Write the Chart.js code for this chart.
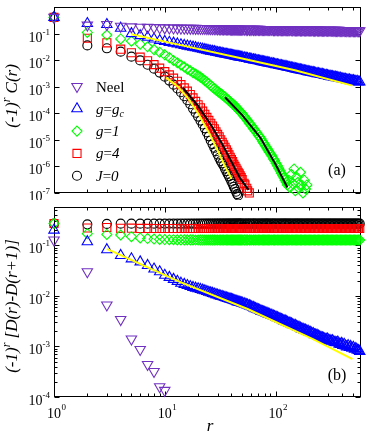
<!DOCTYPE html>
<html lang="en">
<head>
<meta charset="UTF-8">
<title>Staggered correlations</title>
<script src="https://cdn.jsdelivr.net/npm/chart.js"></script>
<style>
  body { margin: 0; background: #fff; }
  #wrap { position: relative; width: 368px; height: 433px; }
  #wrap canvas { position: absolute; left: 0; }
</style>
</head>
<body>
<div id="wrap">
  <canvas id="topChart" width="368" height="200" style="top:0"></canvas>
  <canvas id="bottomChart" width="368" height="233" style="top:200px"></canvas>
</div>
<script>
// distances r shared by every series (rows of ten)
const rValues = [1,2,3,4,5,6,7,8,9,10,
  11,12,13,14,15,16,17,18,19,20,
  21,22,23,24,25,26,27,28,29,30,
  31,32,33,34,35,36,37,38,39,40,
  41,42,43,44,45,46,47,48,49,50,
  52,53,55,56,58,59,61,63,64,66,
  68,70,72,74,76,78,80,82,84,86,
  88,91,93,96,98,101,104,107,110,113,
  116,119,122,125,128,132,135,139,143,147,
  151,155,159,163,168,172,177,182,187,192,
  197,202,208,213,219,225,231,238,244,251,
  258,265,272,279,287,295,303,311,319,328,
  337,346,355,365,375,385,396,406,417,429,
  440,452,465,477,490,504,517,531,546,561,
  576];

// panel (a): (-1)^r C(r)
const neelTop = [0.41,0.21,0.22,0.19,0.18,0.175,0.172,0.169,0.167,0.165,
  0.164,0.163,0.162,0.161,0.160,0.160,0.159,0.159,0.158,0.157,
  0.157,0.156,0.156,0.155,0.155,0.154,0.154,0.153,0.153,0.152,
  0.152,0.152,0.151,0.151,0.151,0.150,0.150,0.150,0.149,0.149,
  0.149,0.149,0.148,0.148,0.148,0.148,0.148,0.147,0.147,0.147,
  0.147,0.147,0.146,0.146,0.146,0.146,0.146,0.145,0.145,0.145,
  0.145,0.145,0.145,0.144,0.144,0.144,0.144,0.144,0.143,0.143,
  0.143,0.143,0.143,0.142,0.142,0.142,0.142,0.142,0.141,0.141,
  0.141,0.141,0.141,0.140,0.140,0.140,0.140,0.140,0.139,0.139,
  0.139,0.139,0.139,0.139,0.138,0.138,0.138,0.138,0.138,0.137,
  0.137,0.137,0.137,0.137,0.136,0.136,0.136,0.136,0.136,0.136,
  0.135,0.135,0.135,0.135,0.135,0.134,0.134,0.134,0.134,0.134,
  0.133,0.133,0.133,0.133,0.133,0.132,0.132,0.132,0.132,0.132,
  0.131,0.131,0.131,0.131,0.131,0.130,0.130,0.130,0.130,0.129,
  0.129];
const gcTop = [0.41,0.24,0.22,0.16,0.100,0.084,0.073,0.063,0.055,0.051,
  0.047,0.044,0.041,0.038,0.036,0.034,0.0325,0.031,0.0295,0.028,
  0.027,0.026,0.025,0.024,0.023,0.022,0.0215,0.021,0.020,0.0195,
  0.0190,0.0185,0.0180,0.0175,0.0171,0.0167,0.0163,0.0160,0.0156,0.0153,
  0.0150,0.0147,0.0144,0.0141,0.0138,0.0136,0.0133,0.0131,0.0129,0.0127,
  0.0123,0.0121,0.0117,0.0115,0.0111,0.0110,0.0107,0.0104,0.0102,0.0100,
  0.0097,0.0095,0.0093,0.0090,0.0088,0.0086,0.0084,0.0082,0.0081,0.0079,
  0.0077,0.0075,0.0074,0.0072,0.0070,0.0068,0.0067,0.0065,0.0063,0.0062,
  0.0060,0.0059,0.0058,0.0057,0.0055,0.0054,0.0053,0.0051,0.0050,0.0049,
  0.0047,0.0046,0.0045,0.0044,0.0043,0.0042,0.0041,0.0040,0.0039,0.0038,
  0.0037,0.0036,0.0035,0.0035,0.0034,0.0033,0.0032,0.0031,0.0031,0.0030,
  0.0029,0.0029,0.0028,0.0027,0.0027,0.0026,0.0025,0.0025,0.0024,0.0024,
  0.0023,0.0023,0.0022,0.0022,0.0021,0.0021,0.0020,0.0020,0.0019,0.0019,
  0.0018,0.0018,0.0018,0.0017,0.0017,0.0017,0.0016,0.0016,0.0016,0.0015,
  0.0015];
const g1Top = [0.41,0.111,0.089,0.063,0.052,0.040,0.032,0.025,0.020,0.016,
  0.0125,0.0098,0.0080,0.0066,0.0055,0.0046,0.0040,0.0034,0.0030,0.0026,
  0.0023,0.0020,0.0017,0.0015,0.0013,0.0011,9.8e-4,8.5e-4,7.6e-4,6.8e-4,
  6.1e-4,5.5e-4,5.0e-4,4.5e-4,4.1e-4,3.7e-4,3.3e-4,3.0e-4,2.7e-4,2.5e-4,
  2.3e-4,2.1e-4,1.9e-4,1.7e-4,1.55e-4,1.4e-4,1.28e-4,1.15e-4,1.05e-4,9.5e-5,
  7.8e-5,7.1e-5,5.8e-5,5.2e-5,4.3e-5,3.9e-5,3.3e-5,2.7e-5,2.5e-5,2.1e-5,
  1.8e-5,1.5e-5,1.3e-5,1.1e-5,9.0e-6,7.6e-6,6.5e-6,5.5e-6,4.7e-6,4.0e-6,
  3.4e-6,2.8e-6,2.4e-6,1.9e-6,1.65e-6,1.3e-6,1.05e-6,8.5e-7,6.8e-7,5.5e-7,
  4.5e-7,3.7e-7,3.0e-7,2.5e-7,2.0e-7,3.0e-7,1.6e-7,5.0e-7,2.2e-7,8.0e-7,
  1.2e-7,4.0e-7,2.5e-7,1.5e-7,6.0e-7,2.0e-7,1.0e-7,3.0e-7,1.4e-7,2.0e-7];
const g4Top = [0.41,0.067,0.045,0.026,0.019,0.013,0.0095,0.0068,0.0050,0.0037,
  0.0028,0.0021,0.0016,0.0012,9.0e-4,6.8e-4,5.1e-4,3.8e-4,2.8e-4,2.1e-4,
  1.6e-4,1.2e-4,9.2e-5,7.0e-5,5.4e-5,4.2e-5,3.3e-5,2.6e-5,2.0e-5,1.6e-5,
  1.3e-5,1.0e-5,8.1e-6,6.5e-6,5.2e-6,4.2e-6,3.4e-6,2.7e-6,2.2e-6,1.8e-6,
  1.5e-6,1.2e-6,1.0e-6,8.5e-7,7.1e-7,6.0e-7,5.2e-7,4.4e-7,3.8e-7,3.2e-7,
  2.3e-7,2.0e-7,1.5e-7,1.2e-7,1.0e-7];
const j0Top = [0.41,0.036,0.028,0.021,0.0136,0.0098,0.0067,0.0048,0.0034,0.0024,
  0.0017,0.0012,8.6e-4,6.2e-4,4.4e-4,3.1e-4,2.2e-4,1.5e-4,1.05e-4,7.5e-5,
  5.3e-5,3.8e-5,2.7e-5,1.9e-5,1.35e-5,9.5e-6,6.9e-6,5.0e-6,3.7e-6,2.8e-6,
  2.1e-6,1.6e-6,1.3e-6,1.05e-6,8.2e-7,6.5e-7,5.2e-7,4.2e-7,3.4e-7,2.7e-7,
  2.2e-7,1.7e-7,1.4e-7,1.1e-7,9.0e-8,8.0e-8];

// fitted curves in panel (a)
const fitGcTopR = [5, 14, 50, 150, 495];
const fitGcTopC = [0.095, 0.037, 0.0115, 0.0042, 0.0011];
const fitJ0TopR = [10.3, 13, 16, 20, 25, 30, 35, 40];
const fitJ0TopC = [0.0022, 0.00105, 4.0e-4, 1.0e-4, 1.9e-5, 4.0e-6, 1.0e-6, 3.5e-7];
const fitG4TopR = [14.6, 20, 26, 33, 40, 48, 57];
const fitG4TopC = [9.0e-4, 1.9e-4, 3.8e-5, 7.0e-6, 1.5e-6, 3.5e-7, 1.3e-7];
const fitG1TopR = [35, 50, 73, 100, 128];
const fitG1TopC = [4.0e-4, 8.5e-5, 1.2e-5, 1.2e-6, 1.6e-7];

// panel (b): (-1)^r [D(r)-D(r+1)]
const neelBot = [0.127,0.030,0.0066,0.0034,0.0014,8.7e-4,4.4e-4,3.2e-4,1.6e-4,1.35e-4];
const gcBot = [0.20,0.118,0.082,0.063,0.054,0.047,0.040,0.034,0.030,0.0256,
  0.0232,0.0212,0.0194,0.0178,0.0169,0.0160,0.0153,0.0147,0.0142,0.0138,
  0.0134,0.0130,0.0126,0.0122,0.0118,0.0115,0.0112,0.0109,0.0106,0.0104,
  0.0101,0.0099,0.0097,0.0095,0.0093,0.0091,0.0089,0.0088,0.0086,0.0085,
  0.0083,0.0082,0.0080,0.0079,0.0077,0.0076,0.0075,0.0074,0.0073,0.0072,
  0.0070,0.0069,0.0067,0.0066,0.0064,0.0063,0.0061,0.0059,0.0058,0.0056,
  0.0055,0.0053,0.0052,0.0050,0.0049,0.0048,0.0047,0.0046,0.0045,0.0044,
  0.0043,0.0042,0.0041,0.0040,0.0039,0.0038,0.0037,0.0036,0.0035,0.0034,
  0.0033,0.0032,0.0032,0.0031,0.0030,0.0029,0.0029,0.0028,0.0027,0.0026,
  0.0026,0.0025,0.0024,0.0024,0.0023,0.0022,0.0022,0.0021,0.0021,0.0020,
  0.0020,0.0019,0.0019,0.0018,0.0018,0.0017,0.0017,0.00165,0.0016,0.00155,
  0.0015,0.00148,0.00145,0.0014,0.00138,0.0014,0.00132,0.0013,0.00127,0.0013,
  0.00122,0.0012,0.00118,0.00122,0.00112,0.0011,0.00115,0.00105,0.0011,0.00102,
  0.00098,0.00104,0.00095,0.0010,0.00092,0.00096,0.00088,0.00091,0.00085,0.00083,
  0.0008];
const g1Bot = [0.27,0.17,0.164,0.160,0.148,0.140,0.136,0.133,0.131,0.130,
  0.129,0.129,0.128,0.128,0.128,0.128,0.128,0.128,0.127,0.127,
  0.127,0.127,0.127,0.127,0.127,0.127,0.127,0.127,0.127,0.127,
  0.127,0.127,0.127,0.127,0.127,0.127,0.127,0.127,0.127,0.127,
  0.127,0.127,0.127,0.127,0.127,0.127,0.127,0.127,0.127,0.127,
  0.127,0.127,0.127,0.127,0.127,0.127,0.127,0.127,0.127,0.127,
  0.127,0.127,0.127,0.127,0.127,0.127,0.127,0.127,0.127,0.127,
  0.127,0.127,0.127,0.127,0.127,0.127,0.127,0.127,0.127,0.127,
  0.127,0.127,0.127,0.127,0.127,0.127,0.127,0.127,0.127,0.127,
  0.127,0.127,0.127,0.127,0.127,0.127,0.127,0.127,0.127,0.127,
  0.127,0.127,0.127,0.127,0.127,0.127,0.127,0.127,0.127,0.127,
  0.127,0.127,0.127,0.127,0.127,0.127,0.127,0.127,0.127,0.127,
  0.127,0.127,0.127,0.127,0.127,0.127,0.127,0.127,0.127,0.127,
  0.127,0.127,0.127,0.127,0.127,0.127,0.127,0.127,0.127,0.127,
  0.127];
const g4Bot = [0.27,0.22,0.225,0.217,0.218,0.216,0.216,0.215,0.215,0.215,
  0.215,0.215,0.215,0.215,0.215,0.215,0.215,0.215,0.215,0.215,
  0.215,0.215,0.215,0.215,0.215,0.215,0.215,0.215,0.215,0.215,
  0.215,0.215,0.215,0.215,0.215,0.215,0.215,0.215,0.215,0.215,
  0.215,0.215,0.215,0.215,0.215,0.215,0.215,0.215,0.215,0.215,
  0.215,0.215,0.215,0.215,0.215,0.215,0.215,0.215,0.215,0.215,
  0.215,0.215,0.215,0.215,0.215,0.215,0.215,0.215,0.215,0.215,
  0.215,0.215,0.215,0.215,0.215,0.215,0.215,0.215,0.215,0.215,
  0.215,0.215,0.215,0.215,0.215,0.215,0.215,0.215,0.215,0.215,
  0.215,0.215,0.215,0.215,0.215,0.215,0.215,0.215,0.215,0.215,
  0.215,0.215,0.215,0.215,0.215,0.215,0.215,0.215,0.215,0.215,
  0.215,0.215,0.215,0.215,0.215,0.215,0.215,0.215,0.215,0.215,
  0.215,0.215,0.215,0.215,0.215,0.215,0.215,0.215,0.215,0.215,
  0.215,0.215,0.215,0.215,0.215,0.215,0.215,0.215,0.215,0.215,
  0.215];
const j0Bot = [0.27,0.26,0.265,0.268,0.268,0.268,0.268,0.268,0.268,0.268,
  0.268,0.268,0.268,0.268,0.268,0.268,0.268,0.268,0.268,0.268,
  0.268,0.268,0.268,0.268,0.268,0.268,0.268,0.268,0.268,0.268,
  0.268,0.268,0.268,0.268,0.268,0.268,0.268,0.268,0.268,0.268,
  0.268,0.268,0.268,0.268,0.268,0.268,0.268,0.268,0.268,0.268,
  0.268,0.268,0.268,0.268,0.268,0.268,0.268,0.268,0.268,0.268,
  0.268,0.268,0.268,0.268,0.268,0.268,0.268,0.268,0.268,0.268,
  0.268,0.268,0.268,0.268,0.268,0.268,0.268,0.268,0.268,0.268,
  0.268,0.268,0.268,0.268,0.268,0.268,0.268,0.268,0.268,0.268,
  0.268,0.268,0.268,0.268,0.268,0.268,0.268,0.268,0.268,0.268,
  0.268,0.268,0.268,0.268,0.268,0.268,0.268,0.268,0.268,0.268,
  0.268,0.268,0.268,0.268,0.268,0.268,0.268,0.268,0.268,0.268,
  0.268,0.268,0.268,0.268,0.268,0.268,0.268,0.268,0.268,0.268,
  0.268,0.268,0.268,0.268,0.268,0.268,0.268,0.268,0.268,0.268,
  0.268];
const fitGcBotR = [3, 14, 56, 218, 495];
const fitGcBotC = [0.085, 0.0185, 0.0055, 0.0014, 5.6e-4];

const legendLabels = ['Neel', 'g=gc', 'g=1', 'g=4', 'J=0'];

const PURPLE = '#7030c0', BLUE = '#0000ff', GREEN = '#00ff00', RED = '#ff0000', BLACK = '#000000', YELLOW = '#ffff00';
const serif = '"Liberation Serif", "Times New Roman", serif';

// marker looks per series: [style, radius, rotation, colour]
const looks = {
  neel: ['triangle', 6, 180, PURPLE],
  gc: ['triangle', 6, 0, BLUE],
  g1: ['rectRot', 5, 0, GREEN],
  g4: ['rect', 5.7, 0, RED],
  j0: ['circle', 4.5, 0, BLACK]
};

function markerSet(vals, look) {
  return {
    data: rValues.map((r, i) => ({ x: r, y: vals[i] })).filter(p => p.y != null),
    showLine: false,
    pointStyle: look[0], pointRadius: look[1], pointRotation: look[2],
    pointBorderColor: look[3], pointBackgroundColor: 'rgba(0,0,0,0)', pointBorderWidth: 1.1,
    borderColor: look[3], backgroundColor: 'rgba(0,0,0,0)',
    clip: false
  };
}

function fitLine(xs, ys, color, width) {
  return {
    data: xs.map((r, i) => ({ x: r, y: ys[i] })),
    showLine: true, pointRadius: 0, borderColor: color, borderWidth: width,
    backgroundColor: 'rgba(0,0,0,0)', clip: false
  };
}

function setFont(ctx, size, italic) {
  ctx.font = (italic ? 'italic ' : '') + size + 'px ' + serif;
}

// draws text pieces one after another (used for superscripts / subscripts)
function drawParts(ctx, parts, x, y, align) {
  let total = 0;
  parts.forEach(p => { setFont(ctx, p.size, p.italic); p.w = ctx.measureText(p.t).width; total += p.w; });
  let cx = align === 'right' ? x - total : (align === 'center' ? x - total / 2 : x);
  parts.forEach(p => {
    setFont(ctx, p.size, p.italic);
    ctx.fillText(p.t, cx, y + (p.dy || 0));
    cx += p.w;
  });
}

function logTicks(min, max) {
  const out = [];
  for (let e = Math.floor(Math.log10(min)); e <= Math.ceil(Math.log10(max)); e++) {
    for (let m = 1; m <= 9; m++) {
      const v = m * Math.pow(10, e);
      if (v >= min * 0.999 && v <= max * 1.001) out.push({ v: v, major: m === 1, e: e });
    }
  }
  return out;
}

function shape(ctx, look, x, y) {
  const [style, r, rot, color] = look;
  ctx.save();
  ctx.strokeStyle = color; ctx.lineWidth = 1.1;
  ctx.beginPath();
  if (style === 'circle') {
    ctx.arc(x, y, r, 0, Math.PI * 2);
  } else if (style === 'rect') {
    const s = Math.SQRT1_2 * r;
    ctx.rect(x - s, y - s, 2 * s, 2 * s);
  } else if (style === 'rectRot') {
    ctx.moveTo(x, y - r); ctx.lineTo(x + r, y); ctx.lineTo(x, y + r); ctx.lineTo(x - r, y); ctx.closePath();
  } else {
    let a = rot * Math.PI / 180;
    for (let k = 0; k < 3; k++) {
      const px = x + Math.sin(a) * r, py = y - Math.cos(a) * r;
      if (k === 0) ctx.moveTo(px, py); else ctx.lineTo(px, py);
      a += 2 * Math.PI / 3;
    }
    ctx.closePath();
  }
  ctx.stroke();
  ctx.restore();
}

function axesPlugin(cfg) {
  return {
    id: 'axesFrame',
    beforeDatasetsDraw(chart) {
      const { ctx, chartArea: a, scales: { x, y } } = chart;
      const L = Math.round(a.left) + 0.5, R = Math.round(a.right) - 0.5;
      const T = Math.round(a.top) + 0.5, B = Math.round(a.bottom) - 0.5;
      ctx.save();
      ctx.strokeStyle = '#000'; ctx.lineWidth = 1;
      ctx.strokeRect(L, T, R - L, B - T);
      ctx.beginPath();
      logTicks(x.min, x.max).forEach(t => {
        const px = Math.round(x.getPixelForValue(t.v)) + 0.5;
        const len = t.major ? 5 : 3;
        ctx.moveTo(px, B); ctx.lineTo(px, B - len);
        ctx.moveTo(px, T); ctx.lineTo(px, T + len);
      });
      logTicks(y.min, y.max).forEach(t => {
        if (!t.major && !cfg.yMinor) return;
        const py = Math.round(y.getPixelForValue(t.v)) + 0.5;
        const len = t.major ? 5 : 3;
        ctx.moveTo(L, py); ctx.lineTo(L + len, py);
        ctx.moveTo(R, py); ctx.lineTo(R - len, py);
      });
      ctx.stroke();
      ctx.restore();
    },
    afterDraw(chart) {
      const { ctx, scales: { x, y } } = chart;
      ctx.save();
      ctx.fillStyle = '#000';
      ctx.textBaseline = 'alphabetic';
      // y tick labels
      logTicks(y.min, y.max).forEach(t => {
        if (!t.major || t.e >= 0) return;
        const py = y.getPixelForValue(t.v);
        drawParts(ctx, [{ t: '10', size: 14 }, { t: String(t.e), size: 9, dy: -7 }], 50, py + 8, 'right');
      });
      // x tick labels
      if (cfg.xLabels) {
        logTicks(x.min, x.max).forEach(t => {
          if (!t.major) return;
          const px = x.getPixelForValue(t.v);
          setFont(ctx, 14, false);
          const w = ctx.measureText('10').width;
          ctx.fillText('10', px - w / 2, cfg.xLabelY);
          setFont(ctx, 9, false);
          ctx.fillText(String(t.e), px + w / 2 + 0.5, cfg.xLabelY - 8);
        });
        drawParts(ctx, [{ t: 'r', size: 17, italic: true }], 210, cfg.xTitleY, 'center');
      }
      // rotated y title
      ctx.save();
      ctx.translate(17, cfg.yTitleMid);
      ctx.rotate(-Math.PI / 2);
      drawParts(ctx, cfg.yTitle, 0, 0, 'center');
      ctx.restore();
      // panel tag
      drawParts(ctx, [{ t: cfg.tag, size: 16 }], 337, cfg.tagY, 'center');
      // legend
      if (cfg.legend) {
        const rows = [
          [looks.neel, [{ t: legendLabels[0], size: 15 }]],
          [looks.gc, [{ t: 'g', size: 15, italic: true }, { t: '=', size: 15 }, { t: 'g', size: 15, italic: true }, { t: 'c', size: 10, italic: true, dy: 3 }]],
          [looks.g1, [{ t: 'g', size: 15, italic: true }, { t: '=', size: 15 }, { t: '1', size: 15, italic: true }]],
          [looks.g4, [{ t: 'g', size: 15, italic: true }, { t: '=', size: 15 }, { t: '4', size: 15, italic: true }]],
          [looks.j0, [{ t: 'J', size: 15, italic: true }, { t: '=', size: 15 }, { t: '0', size: 15, italic: true }]]
        ];
        rows.forEach((row, i) => {
          const yy = 86.5 + i * 22.3;
          shape(ctx, row[0], 77, yy);
          drawParts(ctx, row[1], 96, yy + 5, 'left');
        });
      }
      ctx.restore();
    }
  };
}

function makeChart(id, datasets, yMin, yMax, padding, cfg) {
  return new Chart(document.getElementById(id), {
    type: 'scatter',
    data: { datasets: datasets },
    options: {
      responsive: false,
      animation: false,
      events: [],
      layout: { padding: padding },
      plugins: { legend: { display: false }, tooltip: { enabled: false } },
      scales: {
        x: { type: 'logarithmic', min: 1, max: 590, display: false },
        y: { type: 'logarithmic', min: yMin, max: yMax, display: false }
      }
    },
    plugins: [axesPlugin(cfg)]
  });
}

// first dataset is painted last (on top)
makeChart('topChart', [
  fitLine(fitGcTopR, fitGcTopC, YELLOW, 2),
  fitLine(fitJ0TopR, fitJ0TopC, YELLOW, 2),
  fitLine(fitG4TopR, fitG4TopC, BLACK, 2),
  fitLine(fitG1TopR, fitG1TopC, BLACK, 2),
  markerSet(neelTop, looks.neel),
  markerSet(gcTop, looks.gc),
  markerSet(g1Top, looks.g1),
  markerSet(g4Top, looks.g4),
  markerSet(j0Top, looks.j0)
], 1e-7, 1, { left: 54, top: 2, right: 2, bottom: 6 }, {
  yMinor: false, xLabels: false, legend: true, tag: '(a)', tagY: 175, yTitleMid: 96,
  yTitle: [{ t: '(-1)', size: 17, italic: true }, { t: 'r', size: 12, italic: true, dy: -7 }, { t: ' C(r)', size: 17, italic: true }]
});

makeChart('bottomChart', [
  fitLine(fitGcBotR, fitGcBotC, YELLOW, 2),
  markerSet(neelBot, looks.neel),
  markerSet(gcBot, looks.gc),
  markerSet(g1Bot, looks.g1),
  markerSet(g4Bot, looks.g4),
  markerSet(j0Bot, looks.j0)
], 1e-4, 0.57, { left: 54, top: 4, right: 2, bottom: 36 }, {
  yMinor: true, xLabels: true, xLabelY: 218, xTitleY: 231, legend: false, tag: '(b)', tagY: 180, yTitleMid: 106,
  yTitle: [{ t: '(-1)', size: 17, italic: true }, { t: 'r', size: 12, italic: true, dy: -7 }, { t: ' [D(r)-D(r+1)]', size: 17, italic: true }]
});
</script>
</body>
</html>
